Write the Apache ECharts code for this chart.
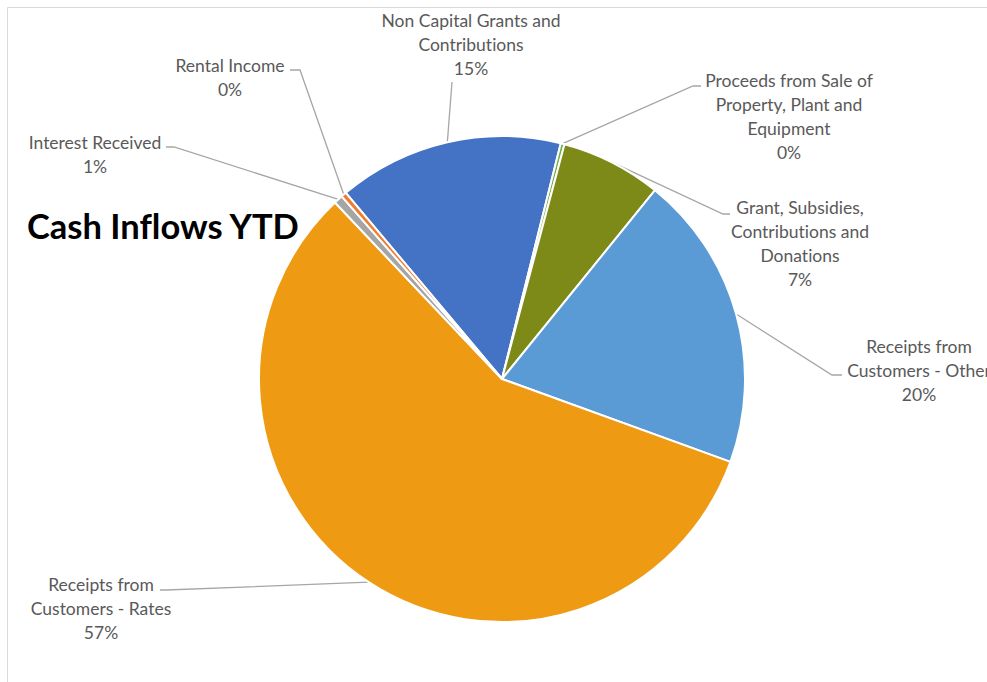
<!DOCTYPE html>
<html>
<head>
<meta charset="utf-8">
<script src="https://cdn.jsdelivr.net/npm/echarts@6/dist/echarts.min.js"></script>
<style>
  html, body { margin: 0; padding: 0; background: #ffffff; }
  #chart { width: 987px; height: 682px; }
  #chart text { font-variant-ligatures: none !important; }
</style>
</head>
<body>
<div id="chart"></div>
<script>
// Cash inflows year to date, listed clockwise from the top-left blue slice
const categories = [
  'Non Capital Grants and\nContributions',
  'Proceeds from Sale of\nProperty, Plant and\nEquipment',
  'Grant, Subsidies,\nContributions and\nDonations',
  'Receipts from\nCustomers - Other',
  'Receipts from\nCustomers - Rates',
  'Interest Received',
  'Rental Income'
];
const shares = [15.0, 0.25, 6.7, 19.7, 57.4, 0.6, 0.35];
const sliceColors = ['#4472C4', '#70AD47', '#7E8A18', '#5B9BD5', '#EE9B13', '#A5A5A5', '#ED7D31'];

// Where each data label sits (centre of the text block) and how its leader line
// bends before reaching the text: elbow point, then the point touching the text.
const labelPlacement = [
  { c: [471, 44.5],  elbow: [452, 82],  end: [452, 82] },
  { c: [789, 116.5], elbow: [693, 86],  end: [701, 86] },
  { c: [800, 243.5], elbow: [723, 214], end: [730, 214] },
  { c: [919, 370.5], elbow: [832, 375], end: [842, 375] },
  { c: [101, 608.5], elbow: [166, 590], end: [160, 590] },
  { c: [95, 154],    elbow: [174, 147], end: [166, 147] },
  { c: [230, 77],    elbow: [300, 70],  end: [290, 70] }
];

const total = shares.reduce((a, b) => a + b, 0);

const chart = echarts.init(document.getElementById('chart'), null, { renderer: 'svg' });

chart.setOption({
  backgroundColor: '#ffffff',
  animation: false,
  title: {
    text: 'Cash Inflows YTD',
    left: 22,
    top: 203,
    textStyle: {
      fontFamily: 'Lato',
      fontWeight: 'bold',
      fontSize: 34.5,
      color: '#000000'
    }
  },
  graphic: [{
    type: 'rect',
    silent: true,
    shape: { x: 7.5, y: 7.5, width: 1000, height: 1000 },
    style: { fill: 'none', stroke: '#D9D9D9', lineWidth: 1 }
  }],
  series: [{
    type: 'pie',
    center: [502, 379],
    radius: 243,
    startAngle: 130,
    clockwise: true,
    avoidLabelOverlap: false,
    itemStyle: { borderColor: '#ffffff', borderWidth: 2 },
    label: {
      show: true,
      position: 'outside',
      formatter: p => p.name + '\n' + Math.round(p.value / total * 100) + '%',
      fontFamily: 'Lato',
      fontSize: 17.5,
      lineHeight: 24,
      color: '#595959',
      align: 'center'
    },
    labelLine: {
      show: true,
      lineStyle: { color: '#A6A6A6', width: 1.3 }
    },
    labelLayout: function (p) {
      const place = labelPlacement[p.dataIndex];
      const pts = p.labelLinePoints;
      return {
        x: place.c[0],
        y: place.c[1],
        align: 'center',
        verticalAlign: 'middle',
        labelLinePoints: [pts[0], place.elbow, place.end]
      };
    },
    emphasis: { disabled: true },
    data: categories.map((name, i) => ({
      name: name,
      value: shares[i],
      itemStyle: { color: sliceColors[i] }
    }))
  }]
});
</script>
</body>
</html>
